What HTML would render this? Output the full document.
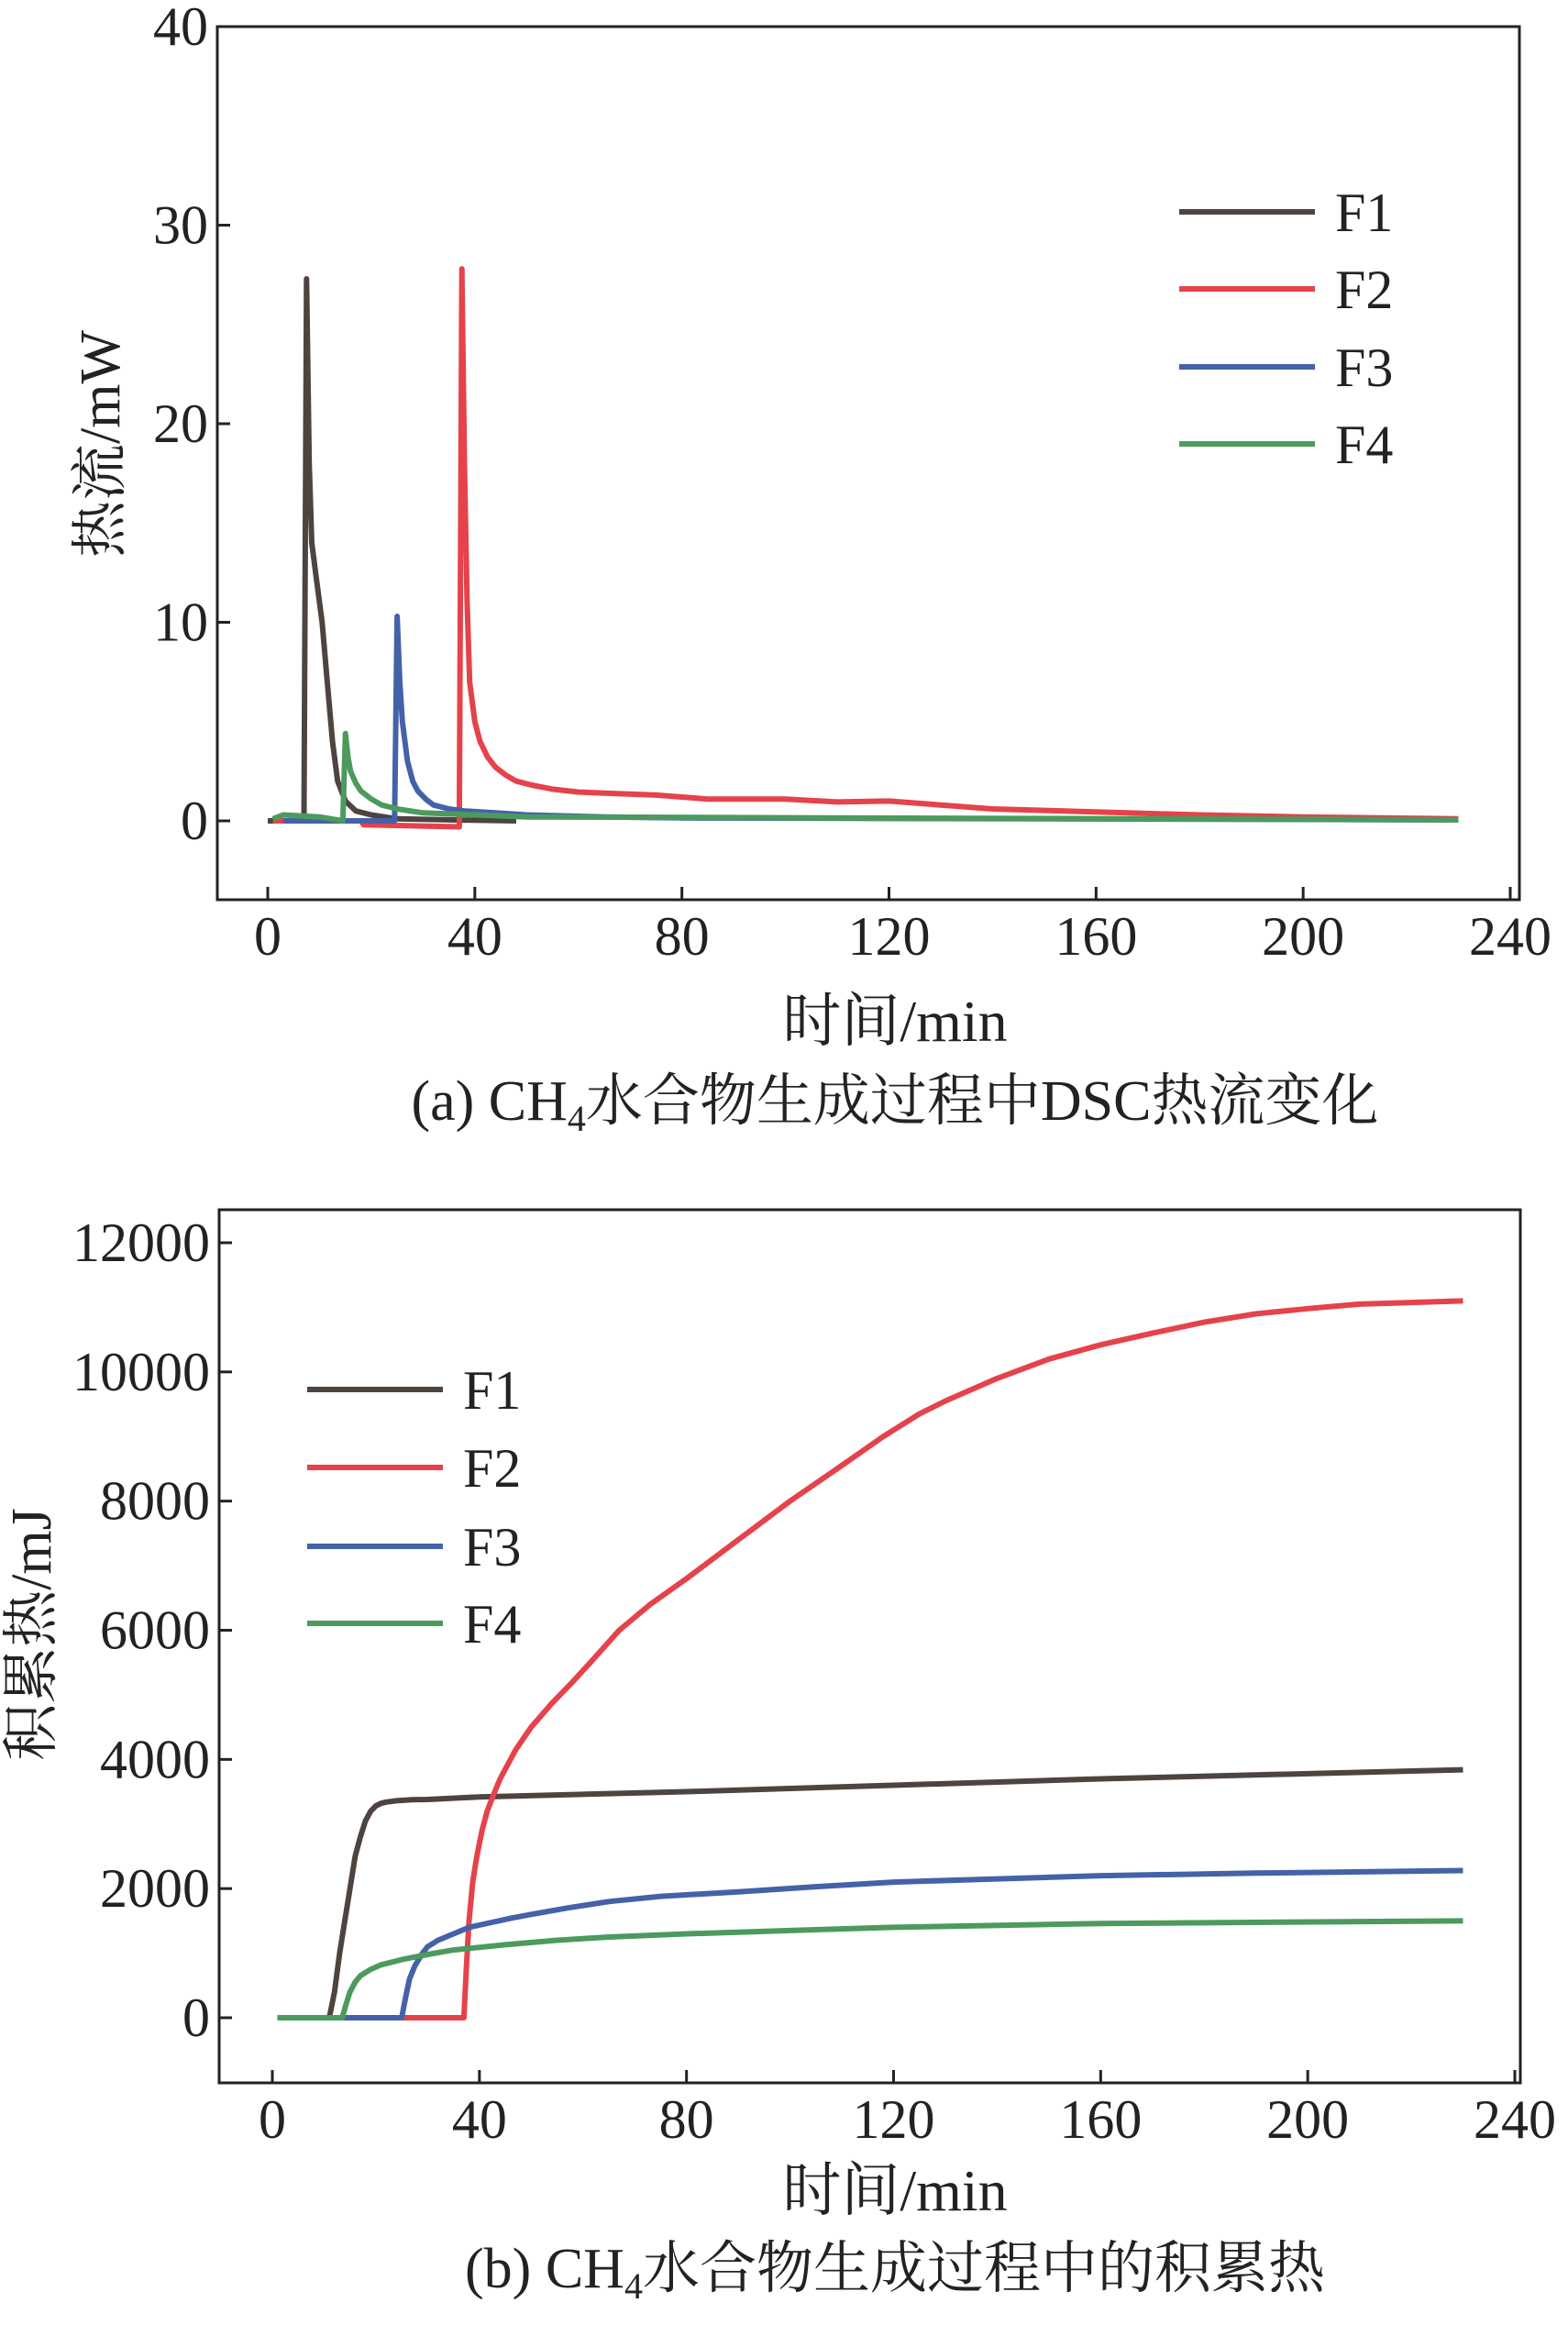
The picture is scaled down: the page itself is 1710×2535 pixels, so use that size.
<!DOCTYPE html>
<html><head><meta charset="utf-8">
<style>
html,body{margin:0;padding:0;background:#fff;}
svg{display:block;}
text{font-family:"Liberation Serif","Noto Serif CJK SC",serif;fill:#222;}
</style></head>
<body>
<svg id="fig" width="1710" height="2535" viewBox="0 0 1710 2535" xmlns="http://www.w3.org/2000/svg">
<g id="chartA"></g>
<g id="chartB"></g>
</svg>
<script>
const xTicks = [0,40,80,120,160,200,240];
const yTicksA = [0,10,20,30,40];
const yTicksB = [0,2000,4000,6000,8000,10000,12000];
const seriesNames = ["F1","F2","F3","F4"];
const seriesColors = ["#4d4440","#e5424b","#4462a8","#4c9a5e"];

const a1t = [0,7,7.5,8,8.5,9.5,10.5,11.5,12.5,13.5,15,17,20,25,35,48];
const a1v = [0,0,27.3,18,14,12,10,7,4,2,1,0.5,0.3,0.1,0.05,0];
const a2t = [1,18,18.5,37,37.5,38,38.5,39,40,41,42.5,44,46,48,51,55,60,65,75,85,100,110,120,130,140,160,180,200,230];
const a2v = [0,0,-0.2,-0.3,27.8,18,11,7,5,4,3.2,2.7,2.3,2,1.8,1.6,1.45,1.4,1.3,1.1,1.1,0.95,1.0,0.8,0.6,0.45,0.3,0.2,0.1];
const a3t = [3,24.5,25,25.5,26,27,28,29,30.5,32,35,38,44,50,65,80,230];
const a3v = [0,0,10.3,7,5,3,2,1.5,1.1,0.8,0.6,0.5,0.4,0.3,0.2,0.15,0.05];
const a4t = [1,3,10,14.5,15,15.5,16,17,18,20,22,25,30,40,50,230];
const a4v = [0.1,0.3,0.2,0,4.4,3.2,2.5,1.9,1.5,1.1,0.8,0.6,0.4,0.3,0.2,0.05];

const b1t = [1,11,12,13,14,15,16,17,18,19,20,21,22,24,27,30,40,80,120,160,230];
const b1v = [0,0,400,1000,1500,2000,2500,2800,3050,3200,3280,3320,3340,3360,3375,3380,3420,3500,3600,3700,3840];
const b2t = [1,37,37.5,38,38.7,39.5,40.5,41.5,42.7,44,47,50,54,58,62,67,73,80,90,100,110,118,125,130,140,150,160,170,180,190,200,210,230];
const b2v = [0,0,800,1500,2100,2500,2900,3200,3450,3700,4150,4500,4870,5200,5550,6000,6400,6800,7400,8000,8550,9000,9350,9550,9900,10200,10420,10600,10770,10900,10980,11050,11100];
const b3t = [1,25,25.7,26.5,27.5,29,30,32,35,38,42,46,50,57,65,75,90,105,120,140,160,190,230];
const b3v = [0,0,300,600,800,1000,1100,1200,1300,1400,1470,1540,1600,1700,1800,1880,1950,2030,2100,2150,2200,2240,2280];
const b4t = [1,13.5,14.2,15,16,17,19,21,25,30,35,45,55,65,80,100,120,160,230];
const b4v = [0,0,200,400,550,650,750,820,900,980,1050,1130,1200,1250,1300,1350,1400,1460,1500];

const NS="http://www.w3.org/2000/svg";
function mk(parent,tag,attrs){const e=document.createElementNS(NS,tag);for(const k in attrs)e.setAttribute(k,attrs[k]);parent.appendChild(e);return e;}

function drawChart(g,cfg){
  const X=v=>cfg.x0+(v-0)*(cfg.x240-cfg.x0)/240;
  const Y=v=>cfg.yZero+(cfg.yTop-cfg.yZero)*(v/cfg.yMax);
  const frame=mk(g,'rect',{x:cfg.L,y:cfg.T,width:cfg.R-cfg.L,height:cfg.B-cfg.T,fill:'none',stroke:'#222','stroke-width':3});
  
  
  xTicks.forEach(t=>{
    const tk=mk(g,'line',{x1:X(t),x2:X(t),y1:cfg.B,y2:cfg.B-14,stroke:'#222','stroke-width':3});
    
    
    const lb=mk(g,'text',{x:X(t),y:cfg.B+60,'text-anchor':'middle','font-size':60});
    
    
    lb.textContent=t;
  });
  cfg.yTicks.forEach(t=>{
    const tk=mk(g,'line',{x1:cfg.L,x2:cfg.L+14,y1:Y(t),y2:Y(t),stroke:'#222','stroke-width':3});
    
    
    const lb=mk(g,'text',{x:cfg.L-10,y:Y(t)+20,'text-anchor':'end','font-size':60});
    
    
    lb.textContent=t;
  });
  cfg.series.forEach((s,i)=>{
    const pts=s[0].map((t,j)=>X(t).toFixed(1)+','+Y(s[1][j]).toFixed(1)).join(' ');
    const pl=mk(g,'polyline',{points:pts,fill:'none',stroke:seriesColors[i],'stroke-width':6,'stroke-linejoin':'round'});
    
    
  });
  seriesNames.forEach((n,i)=>{
    const ly=cfg.legY[i];
    const ln=mk(g,'line',{x1:cfg.legX,x2:cfg.legX+148,y1:ly,y2:ly,stroke:seriesColors[i],'stroke-width':6});
    
    
    const tx=mk(g,'text',{x:cfg.legX+170,y:ly+21,'font-size':60});
    
    
    tx.textContent=n;
  });
  const xt=mk(g,'text',{x:976,y:cfg.xTitleY,'text-anchor':'middle','font-size':64});
  
  
  xt.textContent='时间/min';
  const yt=mk(g,'text',{x:0,y:0,'text-anchor':'middle','font-size':62,transform:`translate(${cfg.yTitleX},${cfg.yTitleY}) rotate(-90)`});
  
  
  yt.textContent=cfg.yTitle;
  const cp=mk(g,'text',{x:976,y:cfg.capY,'text-anchor':'middle','font-size':62});
  
  
  cp.innerHTML=cfg.caption;
}

drawChart(document.getElementById('chartA'),{
  L:237,R:1657,T:29,B:981,x0:292,x240:1647,yZero:895,yTop:29,yMax:40,yTicks:yTicksA,
  series:[[a1t,a1v],[a2t,a2v],[a3t,a3v],[a4t,a4v]],
  legX:1286,legY:[231,315,400,484],
  xTitleY:1135,yTitleX:130,yTitleY:484,yTitle:'热流/mW',capY:1221,
  caption:'(a) CH<tspan font-size="40" dy="12">4</tspan><tspan dy="-12">水合物生成过程中DSC热流变化</tspan>'
});
drawChart(document.getElementById('chartB'),{
  L:239,R:1658,T:1319,B:2271,x0:297,x240:1652,yZero:2200,yTop:1355,yMax:12000,yTicks:yTicksB,
  series:[[b1t,b1v],[b2t,b2v],[b3t,b3v],[b4t,b4v]],
  legX:335,legY:[1515,1600,1686,1770],
  xTitleY:2410,yTitleX:55,yTitleY:1782,yTitle:'积累热/mJ',capY:2494,
  caption:'(b) CH<tspan font-size="40" dy="12">4</tspan><tspan dy="-12">水合物生成过程中的积累热</tspan>'
});
</script>
</body></html>
